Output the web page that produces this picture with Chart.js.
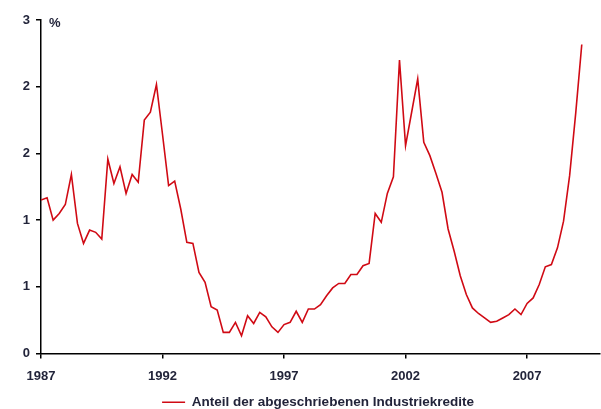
<!DOCTYPE html>
<html>
<head>
<meta charset="utf-8">
<script src="https://cdn.jsdelivr.net/npm/chart.js@4.4.1/dist/chart.umd.min.js"></script>
<style>
    html, body { margin: 0; padding: 0; background: #ffffff; }
    #wrap { width: 601px; height: 409px; }
</style>
</head>
<body>
<div id="wrap"><canvas id="chart" width="601" height="409"></canvas></div>
<script>
// Quarterly series, first value = 1987 Q1
var startYear = 1987;
var seriesLabel = 'Anteil der abgeschriebenen Industriekredite';
var shares = [
    1.38, 1.40, 1.20, 1.26,   // 1987
    1.34, 1.61, 1.17, 0.99,   // 1988
    1.11, 1.09, 1.03, 1.75,   // 1989
    1.53, 1.68, 1.44, 1.61,   // 1990
    1.54, 2.10, 2.17, 2.42,   // 1991
    1.97, 1.51, 1.55, 1.30,   // 1992
    1.00, 0.99, 0.73, 0.64,   // 1993
    0.42, 0.39, 0.19, 0.19,   // 1994
    0.28, 0.16, 0.34, 0.27,   // 1995
    0.37, 0.33, 0.24, 0.19,   // 1996
    0.26, 0.28, 0.38, 0.28,   // 1997
    0.40, 0.40, 0.44, 0.52,   // 1998
    0.59, 0.63, 0.63, 0.71,   // 1999
    0.71, 0.79, 0.81, 1.26,   // 2000
    1.18, 1.44, 1.59, 2.64,   // 2001
    1.87, 2.17, 2.47, 1.90,   // 2002
    1.78, 1.62, 1.45, 1.12,   // 2003
    0.92, 0.70, 0.53, 0.41,   // 2004
    0.36, 0.32, 0.28, 0.29,   // 2005
    0.32, 0.35, 0.40, 0.35,   // 2006
    0.45, 0.50, 0.62, 0.78,   // 2007
    0.80, 0.95, 1.19, 1.60,   // 2008
    2.16, 2.78                // 2009
];
var xTicks = [1987, 1992, 1997, 2002, 2007];
var yTicks = [0, 0.6, 1.2, 1.8, 2.4, 3];
var yTickLabels = ['0', '1', '1', '2', '2', '3'];

var points = shares.map(function(v, i) {
    return { x: startYear + i / 4, y: v };
});

var textColor = '#22243a';
var fontFamily = "'Liberation Sans', Arial, sans-serif";

// "%" unit label at top of the y axis
var unitLabel = {
    id: 'unitLabel',
    afterDraw: function(chart) {
        var ctx = chart.ctx;
        ctx.save();
        ctx.fillStyle = textColor;
        ctx.font = 'bold 13px ' + fontFamily;
        ctx.textAlign = 'left';
        ctx.textBaseline = 'middle';
        ctx.fillText('%', chart.chartArea.left + 8, chart.chartArea.top + 3);
        ctx.restore();
    }
};

// legend sits a bit right of centre in the original
var legendShift = {
    id: 'legendShift',
    afterLayout: function(chart) {
        chart.legend.left += 18;
        chart.legend.right += 18;
    }
};

new Chart(document.getElementById('chart'), {
    type: 'line',
    data: {
        datasets: [{
            label: seriesLabel,
            data: points,
            borderColor: '#d00a14',
            backgroundColor: '#d00a14',
            borderWidth: 1.6,
            pointRadius: 0,
            tension: 0,
            fill: false
        }]
    },
    options: {
        responsive: false,
        animation: false,
        layout: { padding: { left: 0, right: 1, top: 20, bottom: -10 } },
        plugins: {
            legend: {
                position: 'bottom',
                labels: {
                    usePointStyle: true,
                    pointStyle: 'line',
                    pointStyleWidth: 23,
                    padding: 2,
                    color: textColor,
                    font: { family: fontFamily, size: 13.5, weight: 'bold' }
                }
            },
            tooltip: { enabled: false }
        },
        scales: {
            x: {
                type: 'linear',
                min: 1987,
                max: 2010,
                afterBuildTicks: function(scale) {
                    scale.ticks = xTicks.map(function(v) { return { value: v }; });
                },
                afterFit: function(scale) { scale.height = 40; },
                border: { display: true, color: '#000', width: 1.5 },
                grid: { drawOnChartArea: false, drawTicks: true, tickLength: 5, color: '#000', lineWidth: 1.5 },
                ticks: {
                    color: textColor,
                    padding: 10,
                    maxRotation: 0,
                    font: { family: fontFamily, size: 13, weight: 'bold' },
                    callback: function(v) { return String(v); }
                }
            },
            y: {
                min: 0,
                max: 3,
                afterBuildTicks: function(scale) {
                    scale.ticks = yTicks.map(function(v) { return { value: v }; });
                },
                afterFit: function(scale) { scale.width = 41; },
                border: { display: true, color: '#000', width: 1.5 },
                grid: { drawOnChartArea: false, drawTicks: true, tickLength: 5, color: '#000', lineWidth: 1.5 },
                ticks: {
                    color: textColor,
                    padding: 6,
                    font: { family: fontFamily, size: 13, weight: 'bold' },
                    callback: function(v, idx) { return yTickLabels[idx]; }
                }
            }
        }
    },
    plugins: [unitLabel, legendShift]
});
</script>
</body>
</html>
